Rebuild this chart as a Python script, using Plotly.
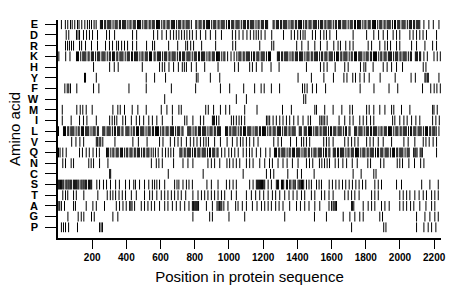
import plotly.graph_objects as go

amino_order = ["E","D","R","K","H","Y","F","W","M","I","L","V","Q","N","C","S","T","A","G","P"]

E = [20,43,57,73,83,98,114,123,139,157,172,184,196,211,223,
 248,254,260,273,279,291,297,303,309,322,334,340,346,359,365,378,384,390,396,409,421,427,440,446,452,465,471,477,483,496,508,514,520,533,539,551,557,563,
 576,582,588,594,607,619,625,638,644,650,663,669,675,681,694,706,712,718,731,737,749,755,761,767,780,
 806,812,825,831,837,850,856,868,874,880,886,899,911,917,923,936,942,954,960,966,972,985,997,1003,1016,1022,1028,1041,1047,1053,1059,1072,1084,1090,1096,1109,1115,1127,1133,1139,1145,1158,1170,1176,1189,1195,1201,1214,1220,1226,
 1258,1264,1277,1283,1289,1302,1308,1320,1326,1332,1338,1351,1363,1369,1375,1388,1394,1406,1412,1418,1424,1437,1449,1455,1468,1474,1480,1493,1499,1505,1511,1524,1536,1542,1548,1561,1567,1579,1585,1591,1597,1610,1622,1628,1641,1647,1653,1666,1672,1678,1684,1697,1709,1715,1721,1734,1740,1752,1758,1764,1770,1783,1795,1801,1814,1820,1826,1839,1845,1851,1857,1870,1882,1888,1894,1907,1913,1925,1931,1937,1943,1956,1968,1974,1987,1993,1999,2012,2018,2024,2030,2043,2055,2061,2067,2080,2086,2098,2104,2110,2116,
 2140,2169,2195,2228]
D = [48,63,108,117,126,149,167,184,202,231,284,301,331,436,460,559,583,608,634,657,676,692,707,723,739,754,770,786,809,833,864,891,922,956,1020,1039,1059,1082,1105,1125,1145,1159,1172,1188,1211,1250,1319,1364,1383,1402,1418,1433,1445,1488,1506,1535,1555,1570,1590,1629,1726,1805,1847,1875,1902,1927,1960,1980,1999,2058,2077,2097,2116,2135,2155,2214]
R = [44,56,67,79,91,126,138,161,196,231,278,301,319,343,354,372,389,407,436,460,518,553,565,647,700,747,758,776,793,840,922,1022,1039,1180,1250,1262,1396,1426,1463,1502,1535,1574,1613,1638,1652,1683,1707,1726,1814,1834,1882,1912,1927,1945,1980,1999,2068,2097,2146,2191,2214]
K = [5,45,70,
 108,114,120,133,145,151,157,163,176,182,195,201,207,220,232,238,244,257,263,269,275,288,300,306,319,325,331,344,350,362,368,374,380,393,405,411,417,430,436,448,454,460,466,479,491,497,510,516,522,535,541,547,
 562,568,581,587,593,599,612,624,630,636,649,655,667,673,679,685,698,710,716,729,735,741,754,760,766,772,785,797,803,809,822,828,840,846,852,858,871,883,889,902,908,914,927,933,939,945,958,970,976,
 992,1012,1030,1046,
 1058,1064,1070,1083,1089,1101,1107,1113,1119,1132,1144,1150,1163,1169,1175,1188,1194,1200,1206,1219,1231,1237,1243,
 1283,1289,1295,1308,1314,1326,1332,1338,1344,1357,1369,1375,1388,1394,1400,1413,1419,1425,1431,1444,1456,1462,1468,1481,1487,1499,1505,1511,1517,1530,1542,1548,1561,1567,1573,1586,1592,1598,1604,1617,1629,1635,1641,1654,1660,1672,1678,1684,1690,1703,1715,1721,1734,1740,1746,1759,1765,1771,1777,1790,1802,1808,1814,1827,1833,1845,1851,1857,1863,1876,1888,1894,1907,1913,1919,1932,1938,1944,1950,1963,1975,1981,1987,2000,2006,2018,2024,2030,2036,2049,2061,2067,2090,2096,2102,2115,2121,
 2140,2160,2199,2218,2236]
H = [208,302,329,352,493,594,610,624,649,676,704,727,739,751,780,809,858,936,1033,1055,1121,1137,1160,1193,1246,1293,1453,1535,1555,1574,1621,1677,1697,1769,1789,1800,1843,1902,1925,1951,1980,2015,2136,2152]
Y = [155,161,224,516,565,629,809,819,891,946,1404,1482,1555,1611,1672,1690,1724,1740,1766,1791,1820,1884,1972,2065,2090,2146,2152,2160,2166,2228]
F = [40,54,63,73,110,208,239,415,516,663,805,950,1004,1086,1150,1188,1206,1248,1296,1430,1443,1457,1488,1512,1565,1767,1848,1936,1987,2132,2180,2200,2216,2236]
W = [624,1043,1102,1437,1449]
M = [25,110,130,145,165,200,321,350,364,389,434,467,516,604,637,669,707,721,864,879,910,950,981,1004,1092,1164,1313,1365,1502,1512,1560,1609,1660,1707,1722,1805,1820,1847,1882,1912,1951,1964,2009,2058,2191,2199,2218]
I = [25,77,126,149,169,224,302,317,331,344,379,395,429,458,477,501,531,552,578,610,669,741,754,789,833,852,903,909,915,927,941,1014,1027,1043,1059,1073,1092,1219,1228,1238,1258,1277,1297,1316,1336,1355,1379,1404,1433,1463,1477,1531,1540,1550,1560,1574,1644,1677,1707,1726,1765,1785,1805,1828,1847,1957,1970,1999,2023,2042,2068,2093,2116,2191,2210,2230]
L = [3,32,38,44,57,63,75,81,87,93,106,118,124,137,143,149,162,168,174,180,193,205,211,217,230,236,262,268,274,287,293,299,305,318,330,336,349,355,361,374,380,397,403,409,415,428,440,446,459,465,471,484,490,496,502,515,527,533,539,552,558,
 570,576,582,588,601,613,619,632,638,644,657,663,669,675,688,700,706,712,725,731,759,765,771,777,790,802,808,821,827,833,846,852,858,864,877,889,895,901,914,920,932,938,944,950,
 980,986,992,1005,1011,1023,1029,1035,1041,1054,1066,1072,1085,1091,1097,1110,1116,1122,1128,1141,1153,1159,1165,1178,1184,1196,1202,1208,1214,1227,1239,1245,1258,1264,1270,1283,1289,1295,1301,1314,1326,1332,1338,1351,1357,1369,1375,1381,1387,
 1411,1417,1423,1440,1446,1452,1465,1471,1477,1483,1496,1508,1514,1520,1533,1539,1551,1557,1563,1569,1582,1594,1600,1613,1619,1625,1638,1644,1650,1656,1669,1681,1687,1702,1708,
 1735,1741,1747,1760,1766,1772,1778,1791,1803,1809,1815,1828,1834,1846,1852,1858,1864,1877,1889,1895,1908,1914,1920,1933,1939,1945,1951,1964,1976,1982,1988,2001,2007,2019,2025,2031,2037,2050,2062,2068,2081,2087,2093,2106,2112,2118,2124,2137,2149,2155,2161,2174,2180,2192,2198,2204,2212,2228]
V = [80,105,128,150,224,232,241,250,262,333,438,470,521,594,614,657,682,702,721,751,774,794,813,833,852,866,880,916,950,989,1020,1047,1067,1082,1102,1121,1145,1170,1262,1287,1307,1360,1395,1424,1437,1453,1472,1554,1570,1585,1609,1677,1697,1717,1736,1755,1805,1825,1844,1873,1902,1951,2023,2048,2087,2136,2152,2171,2194,2214]
Q = [3,12,28,48,126,143,165,183,205,225,242,
 284,290,296,309,321,327,340,346,352,365,371,377,390,402,408,421,427,433,446,452,464,470,476,489,501,507,520,526,532,545,
 557,570,586,610,629,645,660,676,
 713,719,725,738,744,756,762,768,774,787,799,805,818,824,830,843,849,855,861,874,886,892,905,911,917,930,936,
 957,976,999,1015,1034,1054,1083,1102,1120,1135,1160,1185,1215,1240,
 1266,1272,1278,1291,1297,1309,1315,1321,1327,1340,1352,1358,1371,1377,1383,1396,1402,1408,1414,1427,1439,1445,1451,1464,1470,1484,1497,1503,1509,1522,1528,1534,1540,1553,1565,1571,1584,1590,
 1610,1616,1622,1635,1641,1653,1659,1665,1671,1684,1696,1702,1715,1721,1727,1740,1746,1752,1758,1771,1783,1789,1795,1808,1814,1826,1832,1838,1844,1857,1869,1875,1888,1894,1900,1913,1919,1925,1931,1944,1956,1962,1968,1981,1987,1999,2005,2011,2017,2030,2042,2048,2054,
 2080,2087,2093,2100,2118,2124,2131,2214]
N = [28,44,77,91,180,194,208,243,292,546,575,590,610,676,731,760,789,877,897,916,946,988,1004,1024,1043,1063,1102,1121,1141,1180,1209,1237,1254,1287,1316,1340,1371,1404,1453,1471,1490,1529,1543,1559,1574,1588,1621,1640,1666,1688,1721,1750,1812,1828,1887,1906,1984,1999,2015,2052,2085,2121,2140]
C = [302,308,645,849,1083,1219,1243,1262,1344,1400,1424,1498,1726,1773,1847,1860]
S = [2,8,15,21,28,34,46,52,59,65,72,78,90,96,103,109,116,122,134,140,147,153,160,166,178,184,191,197,227,243,266,284,307,337,359,395,418,443,453,477,506,531,552,565,578,594,624,682,696,707,731,751,766,786,871,897,936,985,1004,1024,1043,1121,1141,1160,1166,1172,1178,1184,1190,1196,1203,1209,1229,1248,1277,1284,1290,1307,1313,1320,1336,1342,1355,1362,1375,1381,1388,1404,1411,1417,1424,1430,1437,1453,1468,1482,1512,1527,1541,1586,1605,1625,1644,1664,1683,1703,1722,1742,1761,1781,1800,1853,1873,1892,1980,2009,2127,2175,2224]
T = [28,44,57,91,107,151,233,288,306,321,337,357,376,395,429,458,506,536,552,578,604,624,643,663,682,702,721,747,789,819,839,858,877,897,916,936,956,975,1014,1043,1102,1131,1156,1180,1203,1229,1254,1273,1297,1326,1351,1375,1398,1424,1443,1482,1502,1541,1560,1585,1609,1677,1697,1717,1736,1761,1834,1853,1873,1999,2019,2039,2058,2087,2112,2136,2155,2185,2204,2224]
A = [1,10,20,38,91,102,165,204,224,272,341,360,380,399,419,426,433,448,487,506,526,546,565,594,624,643,669,692,715,741,766,786,792,797,803,809,815,822,868,903,930,937,945,952,958,970,994,1039,1053,1078,1102,1137,1164,1190,1209,1229,1248,1273,1293,1316,1355,1395,1418,1443,1468,1502,1531,1585,1600,1609,1615,1622,1629,1717,1723,1730,1785,1814,1834,1853,1892,1912,1937,1999,2019,2039,2062,2081,2116,2152,2185,2204]
G = [58,118,136,151,196,212,321,350,789,887,903,1000,1092,1326,1500,1570,1668,1707,1736,1765,1785,1882,1898,2097,2146,2175,2204,2224]
P = [20,32,44,62,114,243,252,260,1717,1905,1918,2097,2140,2165,2185,2210]

positions = {"E": E, "D": D, "R": R, "K": K, "H": H, "Y": Y, "F": F, "W": W, "M": M, "I": I,
             "L": L, "V": V, "Q": Q, "N": N, "C": C, "S": S, "T": T, "A": A, "G": G, "P": P}

x_ticks = [200, 400, 600, 800, 1000, 1200, 1400, 1600, 1800, 2000, 2200]
x_max = 2240

n = len(amino_order)
fig = go.Figure()
for i, aa in enumerate(amino_order):
    yv = n - 1 - i
    xs = positions[aa]
    fig.add_trace(go.Scatter(
        x=xs, y=[yv] * len(xs), mode="markers",
        marker=dict(symbol="line-ns", size=7, line=dict(width=1, color="black"), color="black"),
        hoverinfo="x", showlegend=False))

font = "Liberation Sans, Arial, sans-serif"
fig.update_layout(
    width=460, height=299,
    margin=dict(l=58, r=19, t=20, b=61),
    paper_bgcolor="white", plot_bgcolor="white",
    font=dict(family=font, color="black"),
    xaxis=dict(range=[0, x_max], tickvals=x_ticks, ticks="outside", ticklen=9, tickwidth=1.3,
               tickcolor="black", showline=True, linecolor="black", linewidth=1.5,
               showgrid=False, zeroline=False, tickfont=dict(size=10, family=font, weight="bold"),
               title=dict(text="Position in protein sequence", font=dict(size=15, family=font), standoff=10)),
    yaxis=dict(range=[-1, n - 1 + 0.4], tickvals=list(range(n)), ticktext=amino_order[::-1],
               ticks="outside", ticklen=11, tickwidth=1.3, tickcolor="black", ticklabelstandoff=5,
               showline=True, linecolor="black", linewidth=1.5, showgrid=False, zeroline=False,
               tickfont=dict(size=11, family=font, weight="bold"),
               title=dict(text="Amino acid", font=dict(size=15, family=font), standoff=3)),
)
fig.write_html("out.html", config={"displayModeBar": False},
               post_script="document.body.style.margin='0';document.body.style.overflow='hidden';")
